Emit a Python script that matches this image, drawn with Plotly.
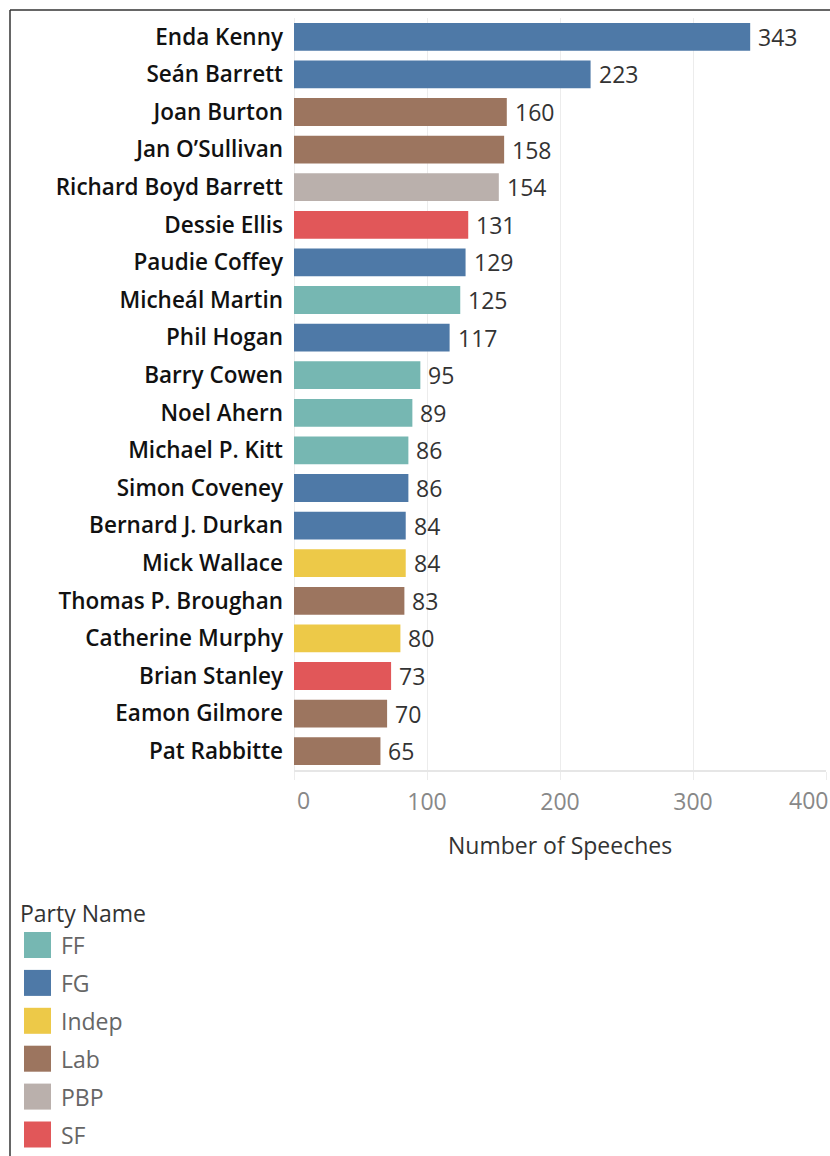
import plotly.graph_objects as go

names = ["Enda Kenny", "Seán Barrett", "Joan Burton", "Jan O’Sullivan", "Richard Boyd Barrett",
         "Dessie Ellis", "Paudie Coffey", "Micheál Martin", "Phil Hogan", "Barry Cowen",
         "Noel Ahern", "Michael P. Kitt", "Simon Coveney", "Bernard J. Durkan", "Mick Wallace",
         "Thomas P. Broughan", "Catherine Murphy", "Brian Stanley", "Eamon Gilmore", "Pat Rabbitte"]
speeches = [343, 223, 160, 158, 154, 131, 129, 125, 117, 95, 89, 86, 86, 84, 84, 83, 80, 73, 70, 65]
parties = ["FG", "FG", "Lab", "Lab", "PBP", "SF", "FG", "FF", "FG", "FF",
           "FF", "FF", "FG", "FG", "Indep", "Lab", "Indep", "SF", "Lab", "Lab"]
party_names = ["FF", "FG", "Indep", "Lab", "PBP", "SF"]
party_colors = ["#76b7b2", "#4e79a7", "#edc948", "#9c755f", "#bab0ac", "#e15759"]
x_ticks = [0, 100, 200, 300, 400]

cmap = dict(zip(party_names, party_colors))
FONT = "Open Sans"

W, H = 830, 1156
L, R, T, B = 294, 4, 18, 386
PW, PH = W - L - R, H - T - B

def px_x(px):
    return (px - L) / PW

def px_y(py):
    return (H - B - py) / PH

fig = go.Figure()
fig.add_trace(go.Bar(
    x=speeches, y=names, orientation="h",
    marker=dict(color=[cmap[p] for p in parties], line=dict(width=0)),
    width=0.74, showlegend=False, hoverinfo="x+y",
))

annotations = []
for n, v in zip(names, speeches):
    annotations.append(dict(x=v, y=n, xref="x", yref="y", text=str(v), showarrow=False,
                            xanchor="left", xshift=6, font=dict(family=FONT, size=23, color="#333333")))

# edge tick labels kept inside the plot width (as in the reference)
tick_text = [str(t) for t in x_ticks]
axis_ticktext = [""] + tick_text[1:-1] + [""]
tick_y = px_y(800)
annotations.append(dict(x=x_ticks[0], y=tick_y, xref="x", yref="paper", text=tick_text[0],
                        showarrow=False, xanchor="left", yanchor="middle", xshift=1,
                        font=dict(family=FONT, size=23, color="#888888")))
annotations.append(dict(x=x_ticks[-1], y=tick_y, xref="x", yref="paper", text=tick_text[-1],
                        showarrow=False, xanchor="right", yanchor="middle", xshift=4,
                        font=dict(family=FONT, size=23, color="#888888")))

# axis title
annotations.append(dict(x=0.5, y=px_y(845), xref="paper", yref="paper", text="Number of Speeches",
                        showarrow=False, xanchor="center", yanchor="middle",
                        font=dict(family=FONT, size=23, color="#333333")))

# legend (manual)
shapes = []
annotations.append(dict(x=px_x(18), y=px_y(913), xref="paper", yref="paper", text="Party Name",
                        showarrow=False, xanchor="left", yanchor="middle",
                        font=dict(family=FONT, size=23, color="#333333")))
for i, (pn, pc) in enumerate(zip(party_names, party_colors)):
    cy = 945 + i * 37.9
    shapes.append(dict(type="rect", xref="paper", yref="paper",
                       x0=px_x(24), x1=px_x(51), y0=px_y(cy - 13), y1=px_y(cy + 13),
                       fillcolor=pc, line=dict(width=0)))
    annotations.append(dict(x=px_x(59), y=px_y(cy), xref="paper", yref="paper", text=pn,
                            showarrow=False, xanchor="left", yanchor="middle",
                            font=dict(family=FONT, size=23, color="#666666")))

# border lines (left and top)
shapes.append(dict(type="line", xref="paper", yref="paper", x0=px_x(10), x1=px_x(10),
                   y0=px_y(10), y1=px_y(1160), line=dict(color="#333333", width=1.5)))
shapes.append(dict(type="line", xref="paper", yref="paper", x0=px_x(10), x1=px_x(835),
                   y0=px_y(10), y1=px_y(10), line=dict(color="#333333", width=1.5)))

fig.update_layout(
    width=W, height=H,
    margin=dict(l=L, r=R, t=T, b=B, autoexpand=False),
    paper_bgcolor="white", plot_bgcolor="white",
    annotations=annotations, shapes=shapes,
    xaxis=dict(range=[0, 400], tickvals=x_ticks, ticktext=axis_ticktext,
               showgrid=True, gridcolor="#ececec", gridwidth=1,
               zeroline=True, zerolinecolor="#ececec", zerolinewidth=1,
               showline=True, linecolor="#e6e6e6", linewidth=2,
               ticks="outside", ticklen=8, tickcolor="#ececec", tickwidth=1,
               tickfont=dict(family=FONT, size=23, color="#888888"), ticklabelstandoff=2,
               fixedrange=True),
    yaxis=dict(categoryorder="array", categoryarray=names[::-1], autorange=False,
               range=[-0.5, len(names) - 0.5],
               tickfont=dict(family=FONT, size=22.5, color="#111111", weight=600),
               ticklabelstandoff=10, ticks="", showgrid=False, showline=False, zeroline=False,
               fixedrange=True),
    font=dict(family=FONT),
)

fig.write_html("out.html", config={"displayModeBar": False},
               post_script="document.body.style.margin='0';document.body.style.overflow='hidden';")
